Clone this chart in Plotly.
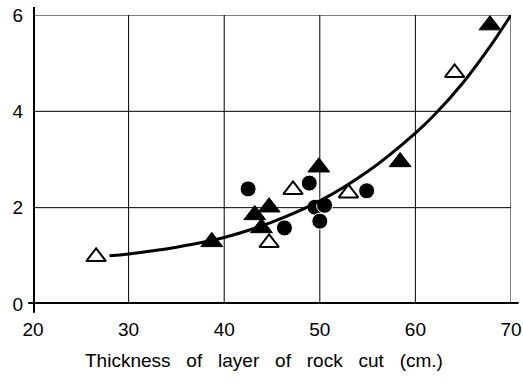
import plotly.graph_objects as go

# Open triangles
open_tri_x = [26.6, 44.7, 47.2, 53.0, 64.1]
open_tri_y = [0.98, 1.27, 2.37, 2.30, 4.80]
# Filled triangles
fill_tri_x = [38.7, 43.2, 44.7, 43.9, 49.9, 58.4, 67.8]
fill_tri_y = [1.29, 1.85, 2.01, 1.58, 2.84, 2.95, 5.79]
# Filled circles
circ_x = [42.5, 46.3, 48.9, 49.5, 50.5, 50.0, 54.9]
circ_y = [2.39, 1.58, 2.51, 2.01, 2.05, 1.72, 2.35]
# Fitted curve
curve_x = [28, 30, 35, 40, 45, 50, 55, 60, 62, 65, 68, 70]
curve_y = [1.00, 1.04, 1.18, 1.38, 1.70, 2.14, 2.75, 3.55, 3.93, 4.60, 5.40, 6.00]

x_ticks = [20, 30, 40, 50, 60, 70]
y_ticks = [0, 2, 4, 6]
x_title = "Thickness   of   layer   of   rock   cut   (cm.)"

FONT = "Liberation Sans"

fig = go.Figure()
fig.add_trace(go.Scatter(
    x=circ_x, y=circ_y, mode="markers",
    marker=dict(symbol="circle", size=16, color="black",
                line=dict(color="white", width=1)),
    showlegend=False, hoverinfo="skip"))
fig.add_trace(go.Scatter(
    x=open_tri_x, y=open_tri_y, mode="markers",
    marker=dict(symbol="triangle-up", size=17, color="white",
                line=dict(color="black", width=2)),
    showlegend=False, hoverinfo="skip"))
fig.add_trace(go.Scatter(
    x=fill_tri_x, y=fill_tri_y, mode="markers",
    marker=dict(symbol="triangle-up", size=19, color="black",
                line=dict(color="black", width=1)),
    showlegend=False, hoverinfo="skip"))
fig.add_trace(go.Scatter(
    x=curve_x, y=curve_y, mode="lines",
    line=dict(color="black", width=3, shape="spline", smoothing=1.0),
    showlegend=False, hoverinfo="skip"))

# grid lines
for xv in x_ticks[1:]:
    fig.add_shape(type="line", xref="x", yref="paper", x0=xv, x1=xv, y0=0, y1=1,
                  line=dict(color="black", width=1), layer="below")
for yv in y_ticks[1:]:
    fig.add_shape(type="line", xref="paper", yref="y", x0=0, x1=1, y0=yv, y1=yv,
                  line=dict(color="black", width=1), layer="below")

# thick axis lines extending slightly beyond the plot box
fig.add_shape(type="line", xref="x", yref="paper", x0=20, x1=20, y0=-0.03, y1=1.028,
              line=dict(color="black", width=4))
fig.add_shape(type="line", xref="paper", yref="y", x0=-0.01, x1=1.016, y0=0, y1=0,
              line=dict(color="black", width=4))

fig.add_annotation(text=x_title, xref="paper", yref="paper", x=0.483, y=-0.194,
                   showarrow=False, xanchor="center", yanchor="middle",
                   font=dict(family=FONT, size=19, color="black"))

fig.update_xaxes(range=[20, 70], tickvals=x_ticks, ticktext=[str(v) for v in x_ticks],
                 showgrid=False, zeroline=False, automargin=False,
                 showline=False, ticks="", ticklabelstandoff=12,
                 tickfont=dict(family=FONT, size=19, color="black"))
fig.update_yaxes(range=[0, 6], tickvals=y_ticks, ticktext=[str(v) for v in y_ticks],
                 showgrid=False, zeroline=False, automargin=False,
                 showline=False, ticks="", ticklabelstandoff=9,
                 tickfont=dict(family=FONT, size=19, color="black"))

fig.update_layout(width=523, height=383, margin=dict(l=33, r=12, t=15, b=79),
                  plot_bgcolor="white", paper_bgcolor="white")

fig.write_html("out.html")
